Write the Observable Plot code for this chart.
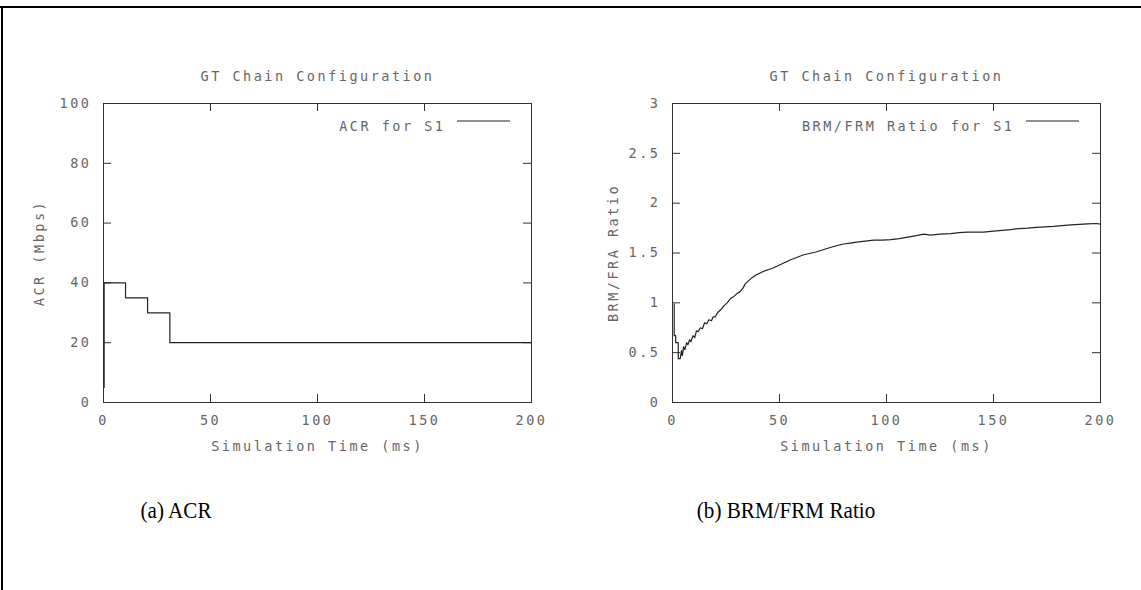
<!DOCTYPE html>
<html>
<head>
<meta charset="utf-8">
<script src="https://cdn.jsdelivr.net/npm/d3@7"></script>
<script src="https://cdn.jsdelivr.net/npm/@observablehq/plot@0.6"></script>
<style>
  html, body { margin: 0; padding: 0; background: #fff; }
  #page { position: relative; width: 1141px; height: 590px; overflow: hidden; background: #fff; }
  .border-top { position: absolute; left: 0; top: 6px; width: 1141px; height: 2px; background: #000; }
  .border-left { position: absolute; left: 1px; top: 6px; width: 2px; height: 590px; background: #000; }
  .panel { position: absolute; top: 0; }
  #page svg text { font-family: "DejaVu Sans Mono", monospace; font-size: 13.5px; letter-spacing: 2.5px; }
  .caption { position: absolute; font-family: "Liberation Serif", "Times New Roman", serif; font-size: 24px; color: #000;
             transform: translateX(-50%) scaleX(0.88); white-space: nowrap; }
</style>
</head>
<body>
<div id="page">
  <div class="border-top"></div>
  <div class="border-left"></div>
  <div id="left" class="panel" style="left:0px"></div>
  <div id="right" class="panel" style="left:570px"></div>
  <div class="caption" style="left:176px; top:497px">(a) ACR</div>
  <div class="caption" style="left:786px; top:497px">(b) BRM/FRM Ratio</div>
</div>
<script>
// ---- data ----
const chartTitle = "GT Chain Configuration";
const xLabel = "Simulation Time (ms)";
const xTicks = [0, 50, 100, 150, 200];

const acrTime  = [0.3, 0.3, 10.3, 20.6, 31, 200];
const acrValue = [5,   40,  35,   30,   20, 20];
const acrTicks = [0, 20, 40, 60, 80, 100];
const acrLegend = "ACR for S1";
const acrYLabel = "ACR (Mbps)";

const ratioTime = [
  0.8, 0.8, 1.5, 1.5, 2.7, 2.7, 3.6, 4.2, 4.6, 5.2,
  5.8, 6.6, 7.2, 8, 8.6, 9.6, 10.4, 11.2, 12, 13,
  14, 15, 16, 17, 18.2, 19, 20, 21, 22.5, 24,
  25.5, 27, 28.5, 30, 31.5, 33, 34, 35.5, 37, 39,
  41, 43, 45, 47, 50, 53, 55, 58, 61, 64,
  67, 70, 73.7, 77, 80, 83, 86, 90, 94, 98,
  102, 106, 110, 114, 117.4, 120.5, 125, 130, 134, 137.6,
  141, 145.4, 150, 154, 158, 162, 166, 170, 174, 178,
  182, 186, 190, 194, 198, 200
];
const ratioValue = [
  0.99, 0.67, 0.67, 0.6, 0.6, 0.44, 0.44, 0.52, 0.47, 0.56,
  0.53, 0.6, 0.58, 0.63, 0.61, 0.67, 0.65, 0.72, 0.71, 0.75,
  0.74, 0.8, 0.79, 0.83, 0.82, 0.86, 0.86, 0.9, 0.93, 0.97,
  1.0, 1.04, 1.06, 1.09, 1.11, 1.15, 1.19, 1.22, 1.25, 1.28,
  1.3, 1.32, 1.335, 1.35, 1.38, 1.41, 1.43, 1.455, 1.48, 1.495,
  1.51, 1.53, 1.555, 1.575, 1.59, 1.6, 1.61, 1.62, 1.63, 1.63,
  1.635, 1.645, 1.66, 1.675, 1.69, 1.68, 1.69, 1.695, 1.705, 1.71,
  1.71, 1.71, 1.72, 1.727, 1.735, 1.745, 1.75, 1.757, 1.763, 1.768,
  1.775, 1.782, 1.788, 1.793, 1.796, 1.79
];
const ratioTicks = [0, 0.5, 1, 1.5, 2, 2.5, 3];
const ratioLegend = "BRM/FRM Ratio for S1";
const ratioYLabel = "BRM/FRA Ratio";

// ---- styling ----
const TXT = "#666";
const TICK = 8;

function panel({time, value, curve, yDomain, yTicks, yLabel, yLabelOffset, legend, width, marginLeft, marginRight}) {
  const height = 470, marginTop = 103, marginBottom = 68;
  const fw = width - marginLeft - marginRight;
  const fh = height - marginTop - marginBottom;
  const data = time.map((t, i) => ({t, v: value[i]}));
  const legendLine = (index, scales, values, dim) => {
    const xr = dim.width - dim.marginRight;
    const y = dim.marginTop + 18;
    return d3.create("svg:line")
      .attr("x1", xr - 74).attr("x2", xr - 21)
      .attr("y1", y).attr("y2", y)
      .attr("stroke", "#222").attr("stroke-width", 1.2).node();
  };
  return Plot.plot({
    width, height, marginLeft, marginRight, marginTop, marginBottom,
    style: {color: TXT, background: "transparent", overflow: "visible"},
    x: {domain: [0, 200], ticks: xTicks},
    y: {domain: yDomain, ticks: yTicks},
    marks: [
      Plot.frame({stroke: "#333", strokeWidth: 1}),
      Plot.tickX(xTicks, {x: d => d, stroke: "#333", insetTop: fh - TICK}),
      Plot.tickX(xTicks, {x: d => d, stroke: "#333", insetBottom: fh - TICK}),
      Plot.tickY(yTicks, {y: d => d, stroke: "#333", insetRight: fw - TICK}),
      Plot.tickY(yTicks, {y: d => d, stroke: "#333", insetLeft: fw - TICK}),
      Plot.axisX({ticks: xTicks, tickSize: 0, tickPadding: 13, fill: TXT, label: xLabel,
                  labelAnchor: "center", labelArrow: "none", labelOffset: 48}),
      Plot.axisY({ticks: yTicks, tickSize: 0, tickPadding: 12, fill: TXT, label: yLabel,
                  tickFormat: d => String(d), labelAnchor: "center", labelArrow: "none", labelOffset: yLabelOffset}),
      Plot.text([chartTitle], {frameAnchor: "top", dy: -32, text: d => d, fill: TXT}),
      Plot.text([legend], {frameAnchor: "top-right", dx: -86, dy: 18, text: d => d, textAnchor: "end", fill: TXT}),
      legendLine,
      Plot.line(data, {x: "t", y: "v", curve, stroke: "#222", strokeWidth: 1.2})
    ]
  });
}

document.getElementById("left").append(panel({
  time: acrTime, value: acrValue, curve: "step-after", yDomain: [0, 100], yTicks: acrTicks,
  yLabel: acrYLabel, yLabelOffset: 69, legend: acrLegend, width: 570, marginLeft: 103, marginRight: 39
}));
document.getElementById("right").append(panel({
  time: ratioTime, value: ratioValue, curve: "linear", yDomain: [0, 3], yTicks: ratioTicks,
  yLabel: ratioYLabel, yLabelOffset: 64, legend: ratioLegend, width: 571, marginLeft: 102, marginRight: 41
}));
</script>
</body>
</html>
